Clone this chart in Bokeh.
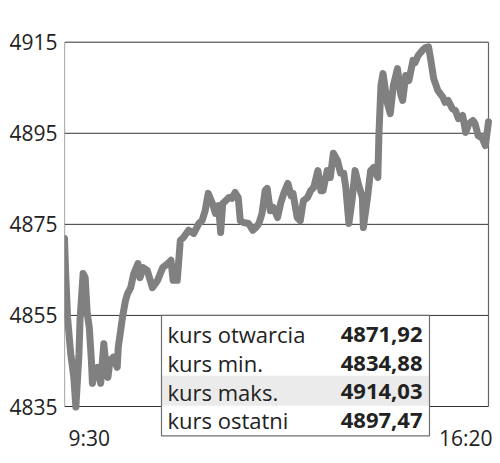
from bokeh.plotting import figure
from bokeh.models import Range1d, FixedTicker
from bokeh.embed import file_html
from bokeh.resources import INLINE
from bokeh.core.properties import value

# ---- data (minutes after 9:30, index level) ----
minutes = [0, 1, 3, 6, 9, 11, 14, 15, 18, 20,
           22, 24, 26, 27, 28, 32, 35, 38, 40, 42,
           44, 47, 51, 52, 56, 59, 61, 64, 67, 71,
           73, 76, 80, 85, 90, 95, 100, 103, 105, 109,
           112, 115, 120, 125, 130, 133, 136, 139, 143, 146,
           149, 151, 153, 156, 159, 162, 165, 168, 170, 173,
           178, 182, 185, 188, 191, 194, 196, 199, 202, 206,
           209, 212, 216, 219, 221, 225, 228, 231, 235, 238,
           241, 245, 248, 250, 254, 257, 260, 264, 267, 270,
           272, 275, 278, 281, 284, 288, 289, 293, 296, 299,
           303, 304, 306, 308, 312, 315, 318, 322, 325, 327,
           330, 333, 337, 339, 342, 346, 349, 352, 354, 357,
           361, 366, 368, 371, 375, 378, 381, 385, 388, 391,
           395, 397, 400, 404, 407, 410]
index_values = [4871.9, 4864.9, 4854.5, 4846.6, 4841.4, 4834.9, 4846.6, 4853.9, 4864.2, 4863.3,
                4855.4, 4852.3, 4845.1, 4840.1, 4841.4, 4843.6, 4840.1, 4848.8, 4844.4, 4841.4,
                4845.1, 4845.8, 4843.6, 4848.0, 4854.5, 4858.3, 4859.8, 4861.1, 4864.2, 4866.4,
                4863.3, 4865.5, 4864.9, 4861.1, 4862.7, 4865.5, 4866.4, 4867.1, 4862.7, 4862.7,
                4871.5, 4872.1, 4873.7, 4873.0, 4875.2, 4875.8, 4878.0, 4881.8, 4879.6, 4877.4,
                4879.1, 4873.2, 4879.6, 4880.2, 4880.9, 4880.7, 4882.0, 4880.9, 4875.8, 4875.4,
                4875.2, 4873.7, 4874.3, 4875.2, 4877.4, 4882.4, 4882.9, 4878.0, 4878.7, 4876.5,
                4879.6, 4881.8, 4884.0, 4881.3, 4881.8, 4876.5, 4875.8, 4880.2, 4880.9, 4882.4,
                4883.1, 4886.8, 4882.4, 4882.4, 4886.8, 4885.3, 4890.6, 4889.0, 4886.2, 4886.2,
                4883.1, 4875.2, 4880.2, 4886.8, 4884.0, 4880.9, 4874.3, 4880.9, 4886.8, 4887.5,
                4885.3, 4894.5, 4905.5, 4908.1, 4901.8, 4899.3, 4905.5, 4909.2, 4903.7, 4902.2,
                4907.7, 4906.6, 4911.0, 4910.5, 4912.1, 4913.2, 4913.8, 4914.0, 4911.4, 4907.0,
                4904.4, 4902.9, 4901.8, 4902.2, 4900.4, 4900.0, 4898.2, 4898.9, 4895.2, 4897.1,
                4897.8, 4897.1, 4894.5, 4893.9, 4892.3, 4897.5]

y_ticks = [4835, 4855, 4875, 4895, 4915]
x_tick_minutes = [0, 410]
x_tick_labels = ["9:30", "16:20"]

table_labels = ["kurs otwarcia", "kurs min.", "kurs maks.", "kurs ostatni"]
table_values = ["4871,92", "4834,88", "4914,03", "4897,47"]
highlight_row = 2

# ---- layout constants ----
W, H = 500, 463
FRAME_LEFT, FRAME_TOP = 64, 36
PX_PER_MIN = 424 / 410.0
PX_PER_UNIT = 91.075 / 20.0
FONT = "Open Sans"
TXT = "#222222"


def dx(px):
    return px / PX_PER_MIN


def dy(px):
    return px / PX_PER_UNIT


x_end = dx(W - FRAME_LEFT)
y_top = y_ticks[-1] + dy(5.7)
y_bottom = y_top - dy(H - FRAME_TOP)

p = figure(width=W, height=H, output_backend="svg", toolbar_location=None,
           x_range=Range1d(0, x_end), y_range=Range1d(y_bottom, y_top),
           x_axis_location=None, y_axis_location="left",
           min_border_left=FRAME_LEFT, min_border_top=FRAME_TOP,
           min_border_right=0, min_border_bottom=0)
p.outline_line_color = None
p.grid.visible = False
p.background_fill_color = "white"
p.border_fill_color = "white"

ax = p.yaxis[0]
ax.ticker = FixedTicker(ticks=y_ticks)
ax.axis_line_color = None
ax.major_tick_line_color = None
ax.minor_tick_line_color = None
ax.major_tick_out = 0
ax.major_tick_in = 0
ax.major_label_standoff = 7
ax.major_label_text_font = FONT
ax.major_label_text_font_size = "21px"
ax.major_label_text_color = TXT

# grid lines / frame
t0, t1 = x_tick_minutes
p.segment(x0=[t0] * len(y_ticks), x1=[t1] * len(y_ticks), y0=y_ticks, y1=y_ticks,
          line_color="#333333", line_width=1)
p.segment(x0=[t0, t1], x1=[t0, t1], y0=[y_ticks[0]] * 2, y1=[y_ticks[-1]] * 2,
          line_color="#666666", line_width=1.2)

# index line
p.line(minutes, index_values, line_color="#808080", line_width=7,
       line_join="round", line_cap="round")

# table
ROW_H = 30.1
tl = dx(97)
tr = tl + dx(268)
ttop = y_ticks[1]
tbot = ttop - dy(4 * ROW_H)
p.quad(left=[tl], right=[tr], top=[ttop], bottom=[tbot], fill_color="white", line_color=None)
p.quad(left=[tl], right=[tr], top=[ttop - dy(highlight_row * ROW_H)],
       bottom=[ttop - dy((highlight_row + 1) * ROW_H)], fill_color="#ebebeb", line_color=None)
p.quad(left=[tl], right=[tr], top=[ttop], bottom=[tbot], fill_color=None,
       line_color="#6e6e6e", line_width=1.2)

row_y = [ttop - dy(19 + i * 28.6) for i in range(len(table_labels))]
p.text(x=[tl + dx(6)] * len(table_labels), y=row_y, text=table_labels,
       text_font=value(FONT), text_font_size="22px", text_color=TXT,
       text_align="left", text_baseline="alphabetic")
p.text(x=[tl + dx(261)] * len(table_values), y=row_y, text=table_values,
       text_font=value(FONT), text_font_size="22px", text_font_style="bold",
       text_color=TXT, text_align="right", text_baseline="alphabetic")

# x labels
xl_y = y_ticks[-1] - dy(437 - 41.7)
p.text(x=[x_tick_minutes[0]], y=[xl_y], text=[x_tick_labels[0]], x_offset=4,
       text_font=value(FONT), text_font_size="21px", text_color=TXT,
       text_align="left", text_baseline="alphabetic")
p.text(x=[x_tick_minutes[1]], y=[xl_y], text=[x_tick_labels[1]], x_offset=4,
       text_font=value(FONT), text_font_size="21px", text_color=TXT,
       text_align="right", text_baseline="alphabetic")

open("out.html", "w").write(file_html(p, INLINE))
